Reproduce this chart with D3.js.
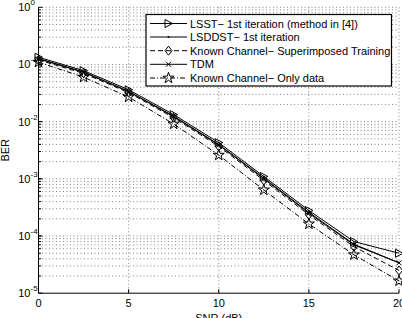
<!DOCTYPE html>
<html><head><meta charset="utf-8">
<script src="https://cdn.jsdelivr.net/npm/d3@7"></script>
<style>
html,body{margin:0;padding:0;background:#fff;}
svg{display:block;font-family:"Liberation Sans",Arial,sans-serif;}
</style></head>
<body>
<svg id="c" width="402" height="318"></svg>
<script>
const snr = [0, 2.5, 5, 7.5, 10, 12.5, 15, 17.5, 20];
const lsst   = [0.134, 0.078, 0.0362, 0.0133, 0.0043, 0.00110, 2.8e-4, 8.0e-5, 5.0e-5];
const lsddst = [0.127, 0.074, 0.0340, 0.0125, 0.0040, 0.00103, 2.6e-4, 7.2e-5, 3.4e-5];
const kcst   = [0.120, 0.070, 0.0322, 0.0117, 0.0037, 0.00094, 2.35e-4, 6.5e-5, 2.5e-5];
const tdm    = [0.125, 0.073, 0.0335, 0.0122, 0.0039, 0.00100, 2.5e-4, 7.0e-5, 3.4e-5];
const kcod   = [0.110, 0.060, 0.0270, 0.0091, 0.0026, 0.00064, 1.63e-4, 4.7e-5, 1.64e-5];
const xTicks = [0, 5, 10, 15, 20];
const yExps = [0, -1, -2, -3, -4, -5];
const names = ["LSST\u2212 1st iteration (method in [4])", "LSDDST\u2212 1st iteration",
  "Known Channel\u2212 Superimposed Training", "TDM", "Known Channel\u2212 Only data"];

const series = [
  {name: names[0], v: lsst, dash: null, marker: "tri"},
  {name: names[1], v: lsddst, dash: null, marker: "dot"},
  {name: names[2], v: kcst, dash: "5,3", marker: "diamond"},
  {name: names[3], v: tdm, dash: null, marker: "x"},
  {name: names[4], v: kcod, dash: "5,2,1,2", marker: "star"}
];

const svg = d3.select("#c");
const L = 38.5, R = 399, T = 7.3, B = 293.2;
const x = d3.scaleLinear().domain([0, 20]).range([L, R]);
const y = d3.scaleLog().domain([1e-5, 1]).range([B, T]);

// grid
const g = svg.append("g");
const minor = [];
for (let e = -5; e < 0; e++) for (let k = 1; k <= 9; k++) minor.push(k * Math.pow(10, e));
minor.push(1);
g.selectAll("line.hg").data(minor.filter(v => v > 1e-5)).join("line")
  .attr("x1", L).attr("x2", R).attr("y1", d => y(d)).attr("y2", d => y(d))
  .attr("stroke", "#666").attr("stroke-width", 0.8).attr("stroke-dasharray", "1,2.5");
g.selectAll("line.vg").data(xTicks.filter(v => v > 0)).join("line")
  .attr("x1", d => x(d)).attr("x2", d => x(d)).attr("y1", T).attr("y2", B)
  .attr("stroke", "#666").attr("stroke-width", 0.8).attr("stroke-dasharray", "1,2.5");

// axes
const ax = svg.append("g");
ax.append("line").attr("x1", L).attr("x2", L).attr("y1", T).attr("y2", B).attr("stroke", "#000");
ax.append("line").attr("x1", L).attr("x2", R).attr("y1", B).attr("y2", B).attr("stroke", "#000");
ax.selectAll("line.mt").data(minor.filter(v => v > 1e-5 && v < 1)).join("line")
  .attr("x1", L).attr("x2", L + 2.5).attr("y1", d => y(d)).attr("y2", d => y(d)).attr("stroke", "#000");
ax.selectAll("line.yt").data(yExps).join("line")
  .attr("x1", L).attr("x2", L + 4).attr("y1", d => y(Math.pow(10, d))).attr("y2", d => y(Math.pow(10, d))).attr("stroke", "#000");
ax.selectAll("line.xt").data(xTicks).join("line")
  .attr("x1", d => x(d)).attr("x2", d => x(d)).attr("y1", B).attr("y2", B - 4).attr("stroke", "#000");

// tick labels
ax.selectAll("text.xl").data(xTicks).join("text")
  .attr("x", d => x(d)).attr("y", B + 14).attr("text-anchor", "middle")
  .attr("font-size", 11).text(d => d);
const yl = ax.selectAll("text.yl").data(yExps).join("text")
  .attr("x", 30.5).attr("y", d => y(Math.pow(10, d)) + 4).attr("text-anchor", "end").attr("font-size", 11);
yl.append("tspan").text("10");
ax.selectAll("text.ys").data(yExps).join("text")
  .attr("x", 30.5).attr("y", d => y(Math.pow(10, d)) - 2).attr("font-size", 8)
  .text(d => d === 0 ? "0" : "-" + (-d));

svg.append("text").attr("x", (L + R) / 2).attr("y", B + 29).attr("text-anchor", "middle")
  .attr("font-size", 11).text("SNR (dB)");
svg.append("text").attr("transform", `translate(9,${(T + B) / 2}) rotate(-90)`)
  .attr("text-anchor", "middle").attr("font-size", 11).text("BER");

// markers
function drawMarker(sel, type, cx, cy) {
  const s = sel.append("g").attr("transform", `translate(${cx},${cy})`);
  const st = {fill: "none", stroke: "#000", "stroke-width": 1};
  const ap = (el) => { for (const k in st) el.attr(k, st[k]); return el; };
  if (type === "tri") ap(s.append("path").attr("d", "M-3.5,-4L4,0L-3.5,4Z"));
  else if (type === "dot") s.append("circle").attr("r", 1).attr("fill", "#000");
  else if (type === "diamond") ap(s.append("path").attr("d", "M0,-4.5L3.5,0L0,4.5L-3.5,0Z"));
  else if (type === "x") ap(s.append("path").attr("d", "M-2.5,-2.5L2.5,2.5M-2.5,2.5L2.5,-2.5"));
  else if (type === "star") ap(s.append("path").attr("d", d3.symbol(d3.symbolStar, 38)()));
}

const line = d3.line().x((d, i) => x(snr[i])).y(d => y(d));
const dg = svg.append("g");
series.forEach(s => {
  dg.append("path").attr("d", line(s.v)).attr("fill", "none").attr("stroke", "#000")
    .attr("stroke-width", 1).attr("stroke-dasharray", s.dash);
  s.v.forEach((v, i) => drawMarker(dg, s.marker, x(snr[i]), y(v)));
});

// legend
const lg = svg.append("g");
lg.append("rect").attr("x", 146).attr("y", 14.5).attr("width", 245.5).attr("height", 71.5)
  .attr("fill", "#fff").attr("stroke", "#000").attr("stroke-width", 1.2);
const rowY = [23.5, 37, 50.7, 64.3, 78];
series.forEach((s, i) => {
  lg.append("line").attr("x1", 150).attr("x2", 187).attr("y1", rowY[i]).attr("y2", rowY[i])
    .attr("stroke", "#000").attr("stroke-width", 1).attr("stroke-dasharray", s.dash);
  drawMarker(lg, s.marker, 168.5, rowY[i]);
  lg.append("text").attr("x", 190).attr("y", rowY[i] + 4).attr("font-size", 11).text(s.name);
});
</script>
</body></html>
